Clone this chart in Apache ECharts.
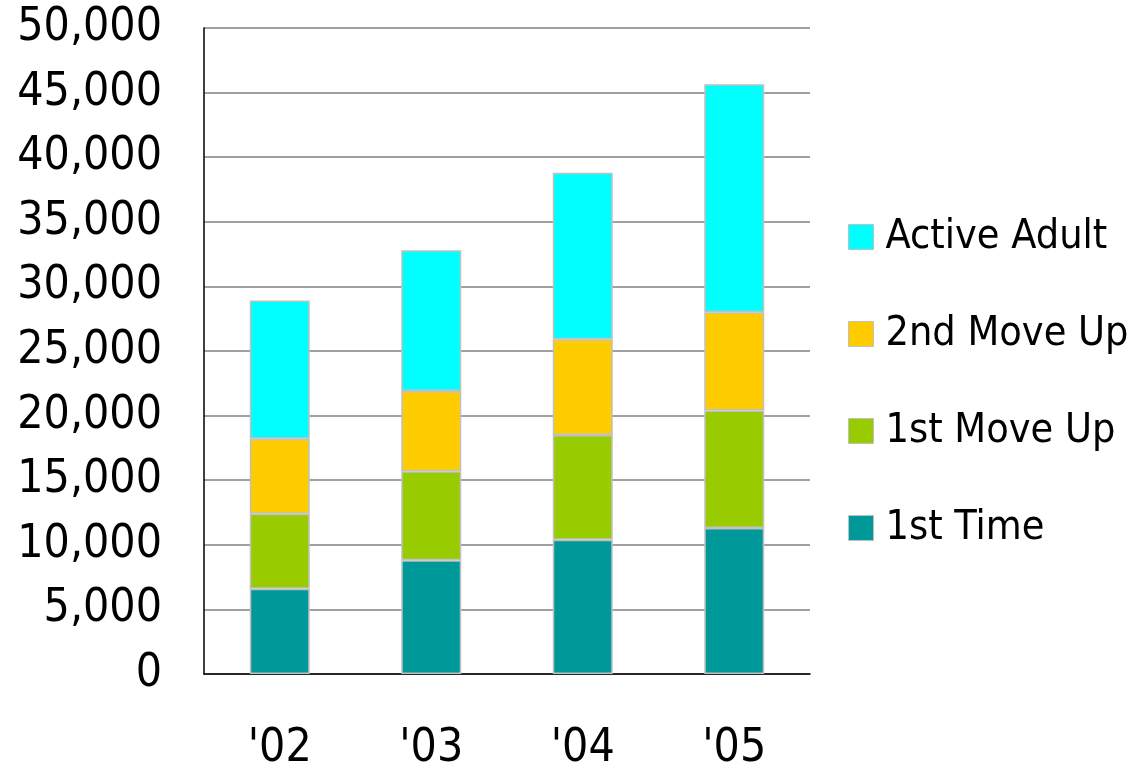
<!DOCTYPE html>
<html>
<head>
<meta charset="utf-8">
<script src="https://cdn.jsdelivr.net/npm/echarts@6/dist/echarts.min.js"></script>
<style>html,body{margin:0;padding:0;background:#fff}#c{width:1140px;height:772px}</style>
</head>
<body>
<div id="c"></div>
<script>
const categories = ["'02", "'03", "'04", "'05"];
const firstTime = [6600, 8800, 10400, 11300];
const firstMoveUp = [5800, 6900, 8100, 9100];
const secondMoveUp = [5800, 6200, 7400, 7600];
const activeAdult = [10700, 10900, 12900, 17650];
const seriesNames = ["1st Time", "1st Move Up", "2nd Move Up", "Active Adult"];
const seriesColors = ["#009999", "#99cc00", "#ffcc00", "#00ffff"];
const seriesData = [firstTime, firstMoveUp, secondMoveUp, activeAdult];

const FONT = "'DejaVu Sans Condensed', 'DejaVu Sans', sans-serif";
const chart = echarts.init(document.getElementById('c'), null, {renderer: 'canvas'});
chart.setOption({
  animation: false,
  backgroundColor: '#fff',
  grid: {left: 204, right: 330, top: 28, bottom: 95, containLabel: false},
  legend: {
    orient: 'vertical',
    left: 848,
    top: 216,
    padding: 0,
    itemWidth: 25,
    itemHeight: 25,
    itemGap: 55,
    icon: 'rect',
    data: seriesNames.slice().reverse(),
    textStyle: {fontFamily: FONT, fontSize: 41, color: '#000', lineHeight: 42, padding: [0, 0, 0, 7]},
    itemStyle: {borderColor: '#c0c0c0', borderWidth: 1}
  },
  xAxis: {
    type: 'category',
    data: categories,
    axisLine: {lineStyle: {color: '#000', width: 1.5}},
    axisTick: {show: false},
    axisLabel: {fontFamily: FONT, fontSize: 46, color: '#000', margin: 52}
  },
  yAxis: {
    type: 'value',
    min: 0, max: 50000, interval: 5000,
    axisLine: {show: true, lineStyle: {color: '#000', width: 1.5}},
    axisTick: {show: false},
    splitLine: {lineStyle: {color: '#808080', width: 1.5}},
    axisLabel: {
      fontFamily: FONT, fontSize: 46, color: '#000', margin: 42,
      formatter: v => v.toLocaleString('en-US')
    }
  },
  series: seriesData.map((d, i) => ({
    name: seriesNames[i],
    type: 'bar',
    stack: 'total',
    data: d,
    barWidth: 60,
    itemStyle: {color: seriesColors[i], borderColor: '#c0c0c0', borderWidth: 1.5}
  }))
});
</script>
</body>
</html>
